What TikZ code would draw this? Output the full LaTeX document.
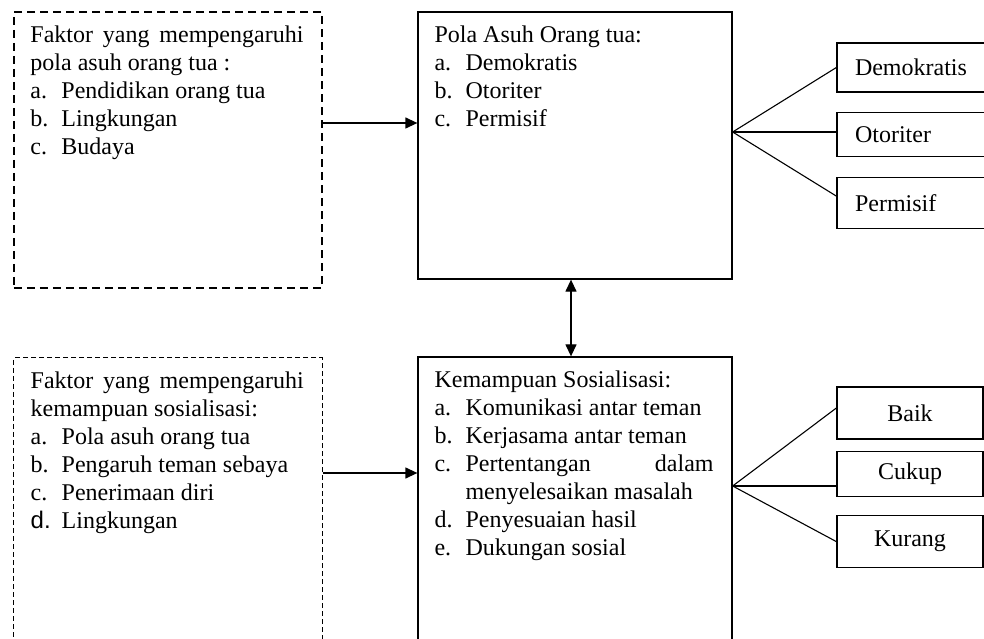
\documentclass[tikz,border=0pt]{standalone}
\usepackage{fontspec}
\setmainfont{Liberation Serif}
\setsansfont{Liberation Sans}
\usetikzlibrary{arrows.meta,positioning,calc}
\newcommand{\Butir}[2]{\makebox[31bp][l]{#1}#2}

\begin{document}
\begin{tikzpicture}[
    x=1bp, y=-1bp,
    font=\fontsize{24bp}{28bp}\selectfont,
    box/.style={rectangle, draw, line width=1.3bp, inner sep=0pt},
    dashbox/.style={box, line width=1.5bp, dash pattern=on 8bp off 5bp},
    thindash/.style={box, line width=1bp, dash pattern=on 5bp off 3bp},
    isi/.style={anchor=north west, inner sep=0pt, align=left},
    pilihan/.style={box, minimum width=158bp, text width=122bp, inner xsep=18bp, align=left},
    nilai/.style={box, minimum width=146bp, align=center},
    tip/.tip={Triangle[length=12bp,width=11bp]},
    arrow/.style={-tip, line width=1.3bp},
    fan/.style={line width=1.1bp}
]
    \useasboundingbox (0,0) rectangle (984,639);
    \clip (0,0) rectangle (984,639);

    % Faktor pola asuh
    \node[dashbox, minimum width=308bp, minimum height=276bp] (faktorPola) at (168,150) {};
    \node[isi] (faktorPola-isi) at ([shift={(17bp,-14bp)}]faktorPola.north west)
        {\makebox[273bp][s]{Faktor yang mempengaruhi}\\
         pola asuh orang tua :\\
         \Butir{a.}{Pendidikan orang tua}\\
         \Butir{b.}{Lingkungan}\\
         \Butir{c.}{Budaya}};

    % Pola asuh orang tua
    \node[box, minimum width=314bp, minimum height=267bp] (pola) at (575,145.5) {};
    \node[isi] (pola-isi) at ([shift={(17bp,-14bp)}]pola.north west)
        {Pola Asuh Orang tua:\\
         \Butir{a.}{Demokratis}\\
         \Butir{b.}{Otoriter}\\
         \Butir{c.}{Permisif}};

    % Jenis pola asuh
    \node[pilihan, minimum height=49bp] (demokratis) at (916,67.5) {Demokratis};
    \node[pilihan, minimum height=44bp, below=19bp of demokratis] (otoriter) {Otoriter};
    \node[pilihan, minimum height=51bp, below=20bp of otoriter] (permisif) {Permisif};

    % Faktor kemampuan sosialisasi
    \node[thindash, minimum width=308bp, minimum height=302bp] (faktorKemampuan) at (168,509) {};
    \node[isi] (faktorKemampuan-isi) at ([shift={(17bp,-14bp)}]faktorKemampuan.north west)
        {\makebox[273bp][s]{Faktor yang mempengaruhi}\\
         kemampuan sosialisasi:\\
         \Butir{a.}{Pola asuh orang tua}\\
         \Butir{b.}{Pengaruh teman sebaya}\\
         \Butir{c.}{Penerimaan diri}\\
         \Butir{{\sffamily d.}}{Lingkungan}};

    % Kemampuan sosialisasi
    \node[box, minimum width=314bp, minimum height=303bp] (kemampuan) at (575,508.5) {};
    \node[isi] (kemampuan-isi) at ([shift={(17bp,-14bp)}]kemampuan.north west)
        {Kemampuan Sosialisasi:\\
         \Butir{a.}{Komunikasi antar teman}\\
         \Butir{b.}{Kerjasama antar teman}\\
         \Butir{c.}{\makebox[248bp][s]{Pertentangan dalam}}\\
         \hspace*{31bp}menyelesaikan masalah\\
         \Butir{d.}{Penyesuaian hasil}\\
         \Butir{e.}{Dukungan sosial}};

    % Kategori
    \node[nilai, minimum height=52bp] (baik) at (910,413) {Baik};
    \node[nilai, minimum height=45bp, below=11bp of baik] (cukup) {Cukup};
    \node[nilai, minimum height=52bp, below=18bp of cukup] (kurang) {Kurang};

    % Panah
    \coordinate (keluarPola) at ([yshift=27bp]faktorPola.east);
    \draw[arrow] (keluarPola) -- (keluarPola -| pola.west);
    \coordinate (keluarKemampuan) at ([yshift=36bp]faktorKemampuan.east);
    \draw[arrow] (keluarKemampuan) -- (keluarKemampuan -| kemampuan.west);
    \draw[tip-tip, line width=1.3bp]
        ([xshift=-4bp]pola.south) -- ([xshift=-4bp]kemampuan.north);

    % Cabang
    \coordinate (cabangPola) at ([yshift=13.5bp]pola.east);
    \draw[fan] (cabangPola) -- (demokratis.west);
    \draw[fan] (cabangPola) -- (cabangPola -| otoriter.west);
    \draw[fan] (cabangPola) -- ([yshift=7bp]permisif.west);
    \coordinate (cabangKemampuan) at ([yshift=22.5bp]kemampuan.east);
    \draw[fan] (cabangKemampuan) -- ([yshift=5bp]baik.west);
    \draw[fan] (cabangKemampuan) -- (cabangKemampuan -| cukup.west);
    \draw[fan] (cabangKemampuan) -- (kurang.west);
\end{tikzpicture}
\end{document}
